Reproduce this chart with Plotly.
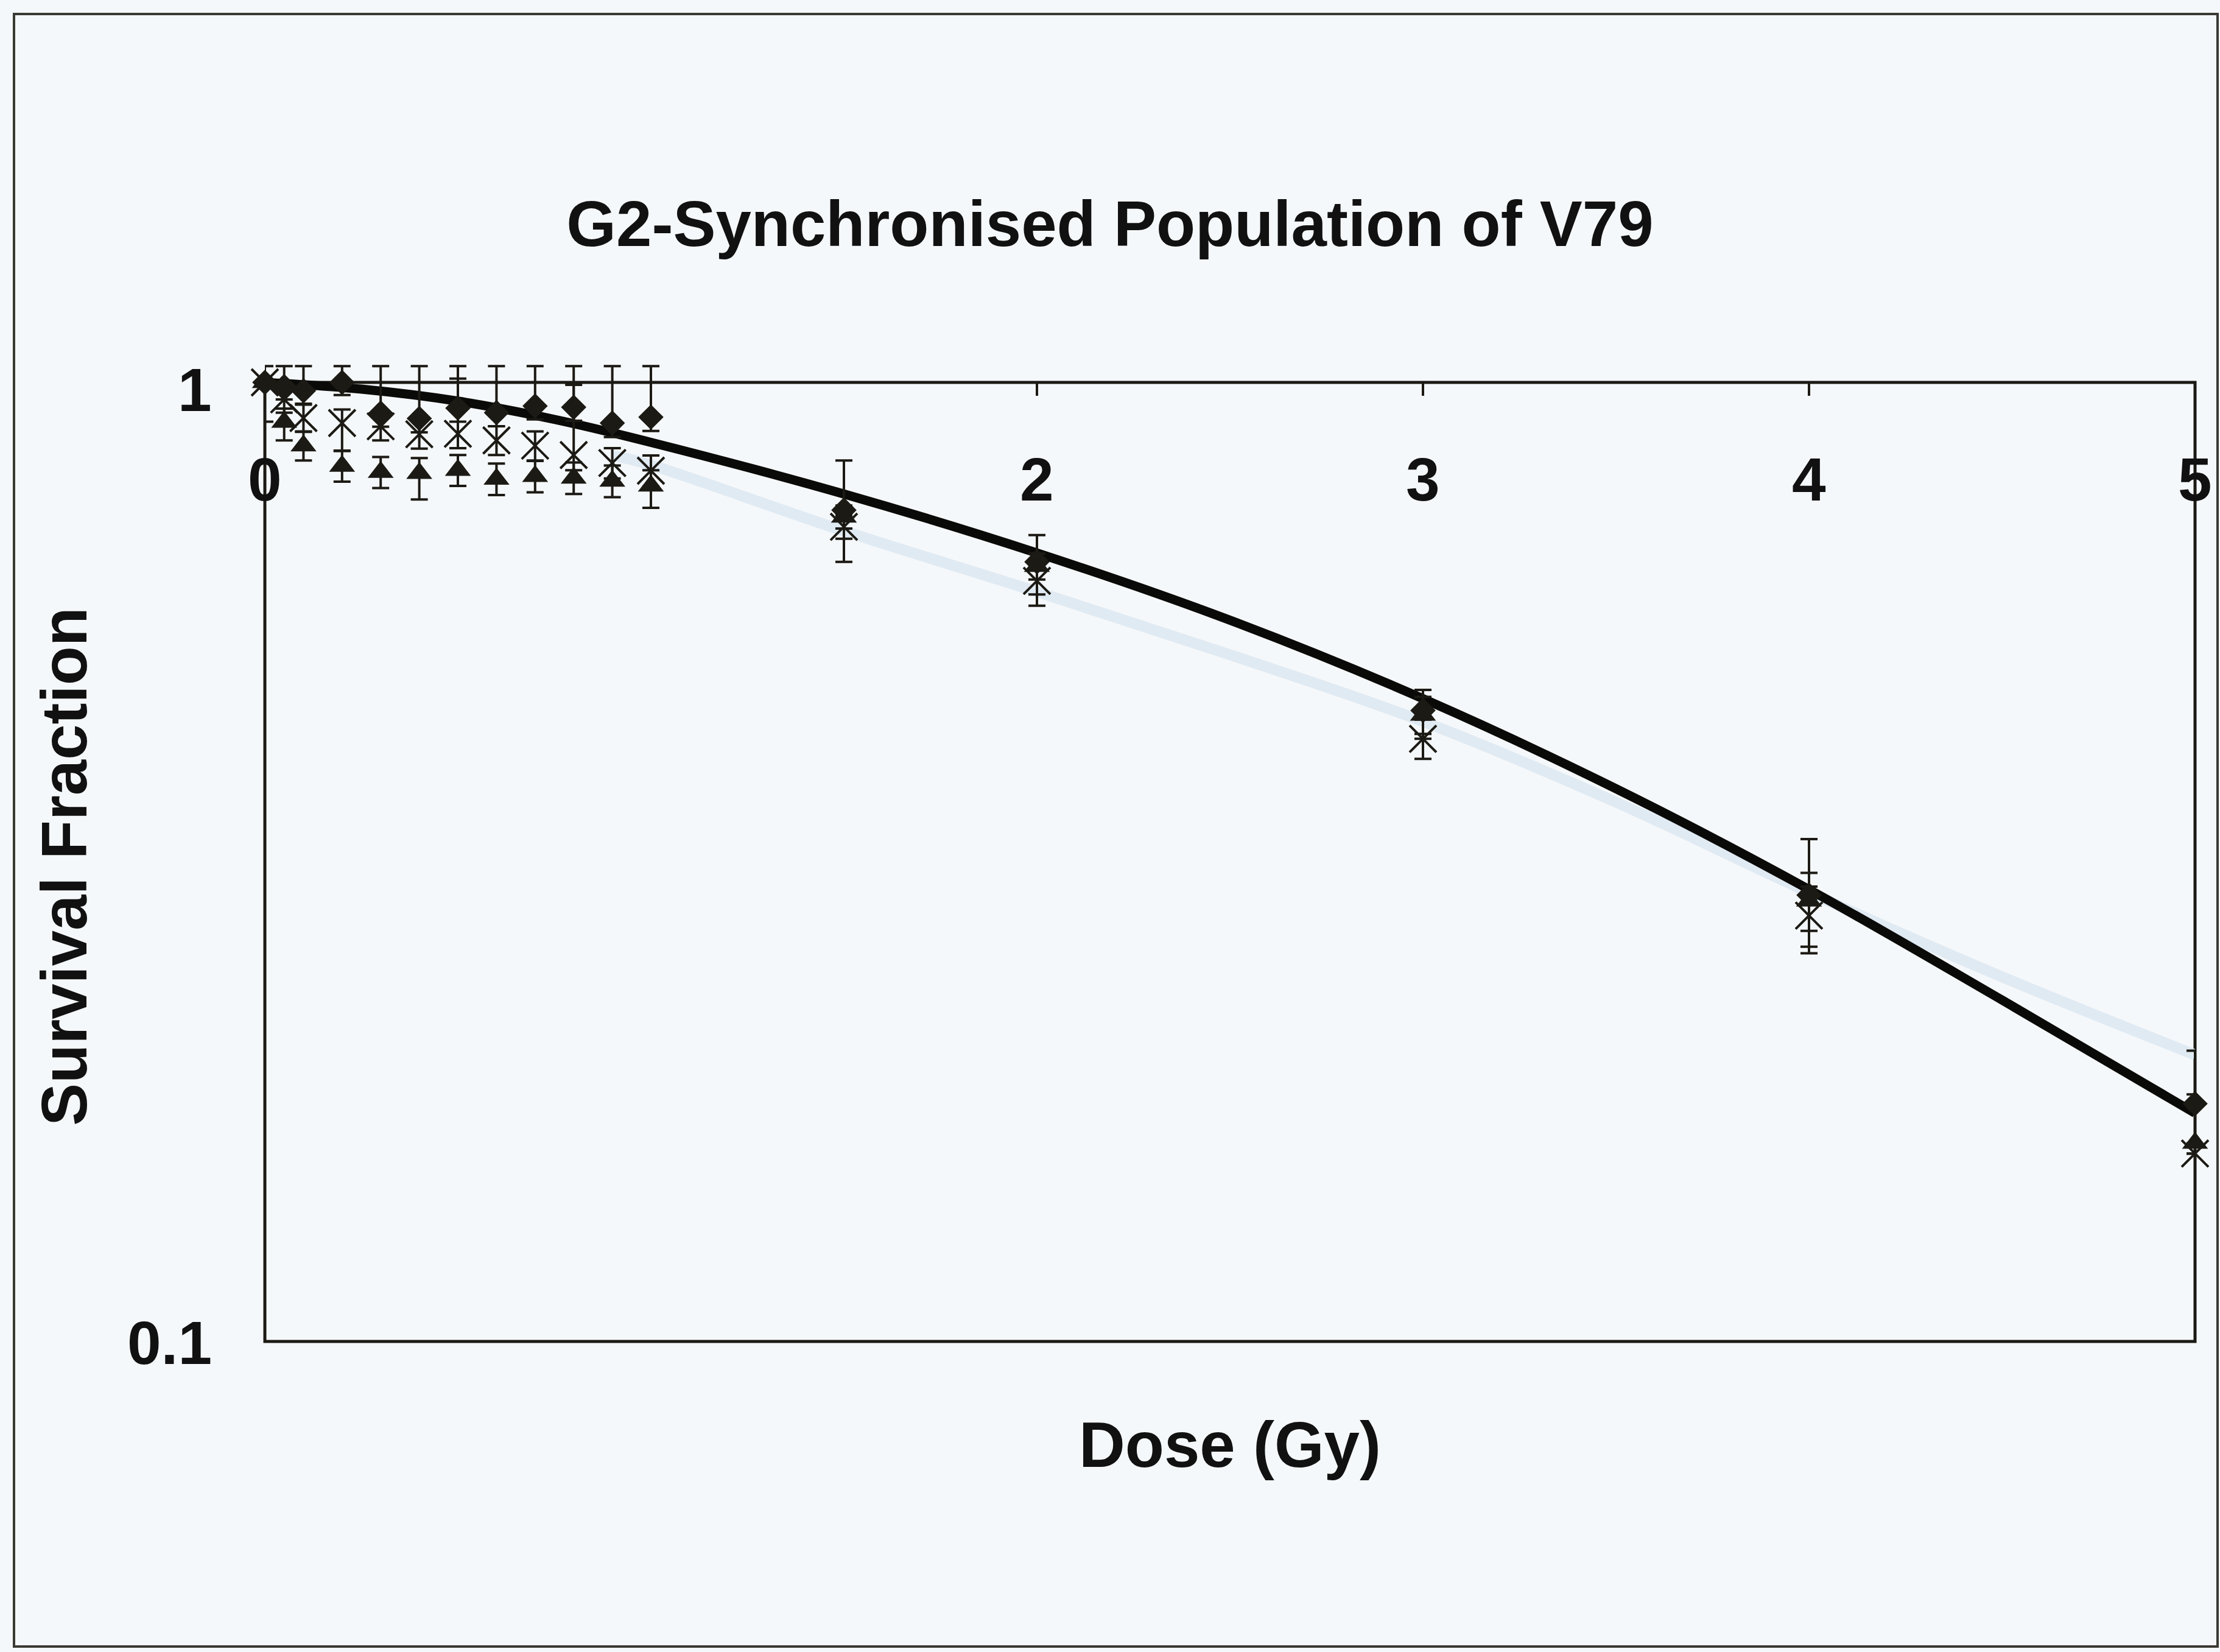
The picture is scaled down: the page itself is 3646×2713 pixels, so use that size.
import math
import plotly.graph_objects as go

# Irradiation doses (Gy)
dose = [0, 0.05, 0.1, 0.2, 0.3, 0.4, 0.5, 0.6, 0.7, 0.8, 0.9, 1.0, 1.5, 2, 3, 4, 5]

# Measured survival fractions for the three experiments
sf_diamond = [1.0, 0.99, 0.98, 1.0, 0.929, 0.917, 0.94, 0.93, 0.945, 0.942, 0.907, 0.92,
              0.736, 0.65, 0.455, 0.292, 0.177]
sf_cross = [1.0, 0.96, 0.918, 0.907, 0.90, 0.883, 0.884, 0.87, 0.859, 0.84, 0.824, 0.809,
            0.707, 0.621, 0.425, 0.278, 0.157]
sf_triangle = [1.0, 0.909, 0.859, 0.818, 0.806, 0.804, 0.81, 0.793, 0.798, 0.795, 0.789, 0.78,
               0.724, 0.643, 0.45, 0.288, 0.161]

# Error bars (upper / lower)
err_diamond_up = [0.04, 0.05, 0.06, 0.04, 0.111, 0.123, 0.10, 0.11, 0.095, 0.098, 0.133, 0.12,
                  0.093, 0.043, 0.023, 0.042, 0.024]
err_diamond_dn = [0.09, 0.03, 0.03, 0.03, 0.03, 0.03, 0.03, 0.03, 0.03, 0.03, 0.03, 0.03,
                  0.086, 0.065, 0.03, 0.038, 0.02]
err_cross_up = [0, 0.03, 0.03, 0.03, 0.03, 0.03, 0.125, 0.03, 0.03, 0.154, 0.03, 0.03,
                0.02, 0.02, 0.02, 0.02, 0.02]
err_cross_dn = [0, 0.03, 0.03, 0.058, 0.03, 0.03, 0.03, 0.03, 0.03, 0.03, 0.03, 0.03,
                0.02, 0.02, 0.02, 0.02, 0.0]
err_triangle_up = [0, 0.03, 0.03, 0.03, 0.03, 0.03, 0.03, 0.03, 0.03, 0.03, 0.03, 0.03,
                   0.02, 0.02, 0.02, 0.02, 0.02]
err_triangle_dn = [0, 0.039, 0.03, 0.03, 0.03, 0.049, 0.03, 0.03, 0.03, 0.03, 0.03, 0.04,
                   0.02, 0.02, 0.02, 0.02, 0.0]

# Fitted survival curve (black) and secondary fit (pale blue)
fit_dose = [0, 0.25, 0.5, 0.75, 1, 1.5, 2, 2.5, 3, 3.5, 4, 4.5, 5]
fit_sf = [1.0, 0.984, 0.956, 0.915, 0.866, 0.765, 0.664, 0.565, 0.468, 0.377, 0.296, 0.227, 0.173]
alt_dose = [0.9, 1.0, 1.5, 2, 2.5, 3, 3.5, 4, 4.5, 5]
alt_sf = [0.84, 0.82, 0.70, 0.605, 0.52, 0.443, 0.365, 0.294, 0.24, 0.199]

# Axis ticks and the labels printed beside them
x_ticks = [1, 2, 3, 4]
x_label_vals = [0, 2, 3, 4, 5]
x_label_text = ["0", "2", "3", "4", "5"]
y_label_vals = [1, 0.1]
y_label_text = ["1", "0.1"]
y_min, y_max = 0.1, 1.0

title_text = "G2-Synchronised Population of V79"
x_title = "Dose (Gy)"
y_title = "Survival Fraction"

W, H = 3646, 2713
L, R, T, B = 435, 3605, 628, 2203   # frame of the axes box in pixels
HEAD = 45                            # headroom above the box so error bars can overshoot it
TA = T - HEAD                        # top of the plotting region
DECADE = B - T
INK = "#1c1a14"
TXT = "#111111"
BG = "#f5f8fa"
FONT = "Arial, 'Liberation Sans', sans-serif"


def px_x(p):
    return (p - L) / (R - L)


def px_y(p):
    return (B - p) / (B - TA)


def err(up, dn):
    return dict(type="data", symmetric=False, array=up, arrayminus=dn,
                color=INK, thickness=4, width=14)


def bold(size):
    return dict(family=FONT, size=size, weight="bold", color=TXT)


fig = go.Figure()

fig.add_trace(go.Scatter(x=alt_dose, y=alt_sf, mode="lines", line_shape="spline",
                         line=dict(color="#e0eaf3", width=18), hoverinfo="skip"))
fig.add_trace(go.Scatter(x=fit_dose, y=fit_sf, mode="lines", line_shape="spline",
                         line=dict(color="#0a0a08", width=15), cliponaxis=False))

fig.add_trace(go.Scatter(x=dose, y=sf_diamond, mode="markers", cliponaxis=False,
                         marker=dict(symbol="diamond", size=32, color=INK),
                         error_y=err(err_diamond_up, err_diamond_dn)))
fig.add_trace(go.Scatter(x=dose, y=sf_cross, mode="markers", cliponaxis=False,
                         marker=dict(symbol="x-thin-open", size=44, color=INK,
                                     line=dict(color=INK, width=4)),
                         error_y=err(err_cross_up, err_cross_dn)))
fig.add_trace(go.Scatter(x=dose, y=sf_triangle, mode="markers", cliponaxis=False,
                         marker=dict(symbol="triangle-up", size=37, color=INK),
                         error_y=err(err_triangle_up, err_triangle_dn)))

annotations = []
# x tick labels sit just under the top edge of the box
for v, t in zip(x_label_vals, x_label_text):
    annotations.append(dict(text=t, xref="x", yref="paper", x=v, y=px_y(787),
                            xanchor="center", yanchor="middle", showarrow=False,
                            font=bold(100)))
# y tick labels
for v, t in zip(y_label_vals, y_label_text):
    y_px = T + 12 if v == y_max else B + 2
    annotations.append(dict(text=t, xref="paper", yref="paper", x=px_x(350), y=px_y(y_px),
                            xanchor="right", yanchor="middle", showarrow=False,
                            font=bold(100)))
annotations.append(dict(text=x_title, xref="paper", yref="paper", x=0.5, y=px_y(2372),
                        xanchor="center", yanchor="middle", showarrow=False, font=bold(105)))
annotations.append(dict(text=y_title, xref="paper", yref="paper", x=px_x(105), y=px_y(1423),
                        xanchor="center", yanchor="middle", showarrow=False, textangle=-90,
                        font=bold(105)))

shapes = [
    # outer frame of the chart
    dict(type="rect", xref="paper", yref="paper",
         x0=px_x(23), x1=px_x(3642), y0=px_y(2704), y1=px_y(23),
         line=dict(color="#3a3a34", width=4), fillcolor="rgba(0,0,0,0)", layer="below"),
    # axes box from 0.1 to 1
    dict(type="rect", xref="paper", yref="paper", x0=0, x1=1, y0=0, y1=px_y(T),
         line=dict(color=INK, width=5), fillcolor="rgba(0,0,0,0)", layer="below"),
]
# tick marks hanging from the top edge
for v in x_ticks:
    shapes.append(dict(type="line", xref="x", yref="paper", x0=v, x1=v,
                       y0=px_y(T), y1=px_y(T + 22), line=dict(color=INK, width=4),
                       layer="below"))

log_top = math.log10(y_max) + HEAD / DECADE

fig.update_layout(
    width=W, height=H, autosize=False,
    margin=dict(l=L, r=W - R, t=TA, b=H - B, pad=0),
    paper_bgcolor=BG, plot_bgcolor=BG,
    showlegend=False,
    font=dict(family=FONT, color=TXT, size=100),
    title=dict(text=title_text, x=0.5, xref="container", xanchor="center",
               y=1 - 367 / H, yref="container", yanchor="middle", font=bold(105)),
    xaxis=dict(range=[0, 5], showticklabels=False, ticks="", showgrid=False,
               zeroline=False, showline=False),
    yaxis=dict(type="log", range=[math.log10(y_min), log_top], showticklabels=False,
               ticks="", showgrid=False, zeroline=False, showline=False),
    annotations=annotations,
    shapes=shapes,
)

fig.write_html("out.html")
